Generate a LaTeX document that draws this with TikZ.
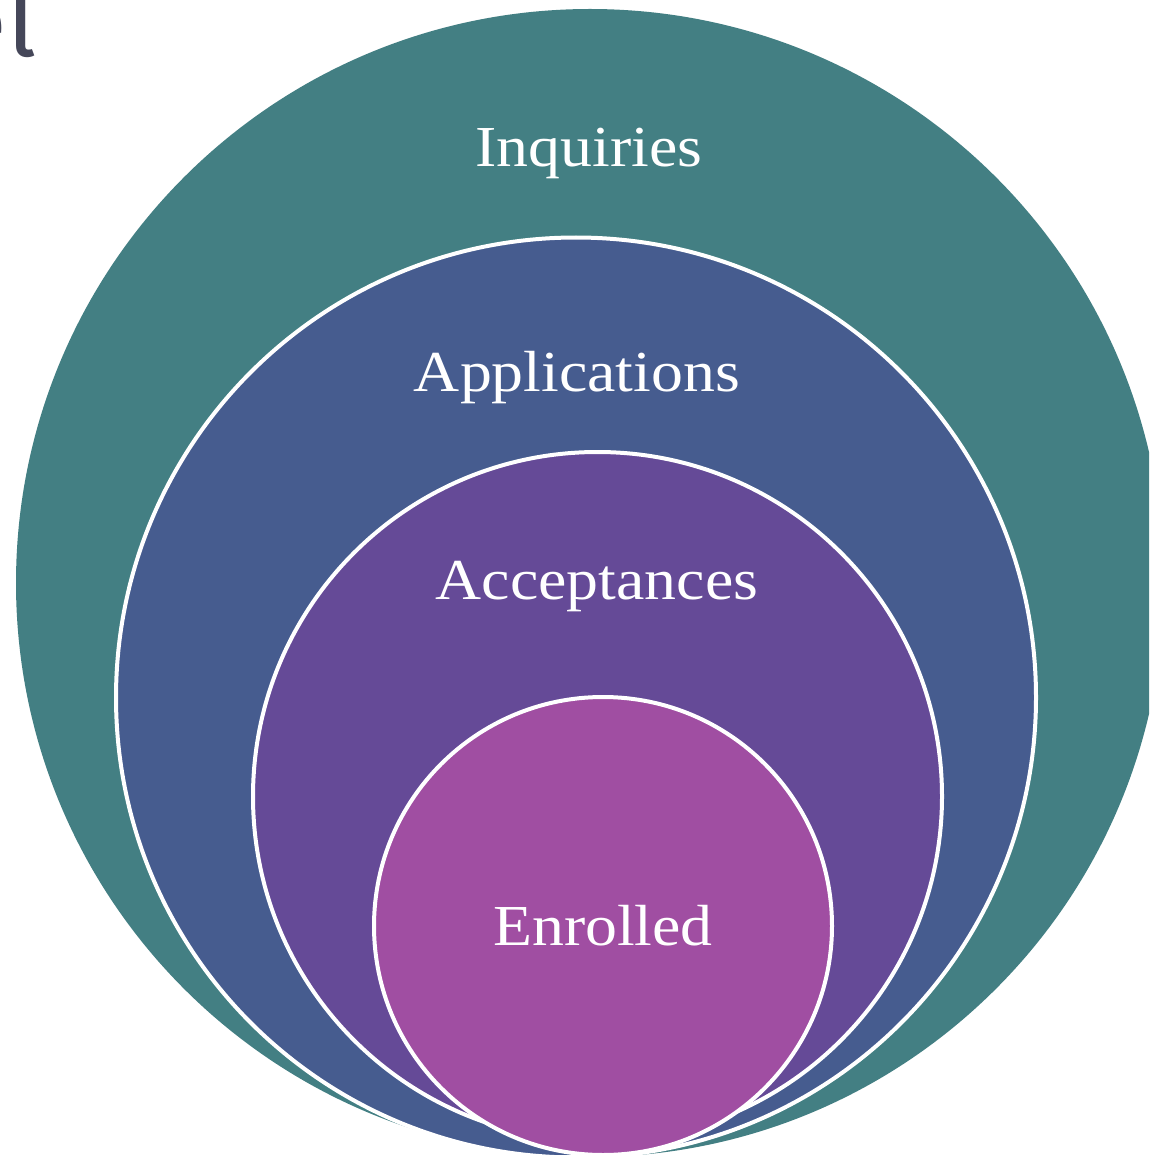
\documentclass[tikz,border=0pt]{standalone}
\usepackage{fontspec}
\setmainfont[FakeStretch=1.1]{Liberation Serif}
\newfontfamily\titlefont{Fira Sans}
\usepackage{tikz}

\definecolor{inqteal}{HTML}{437F83}
\definecolor{appblue}{HTML}{465C8F}
\definecolor{accpurple}{HTML}{654A97}
\definecolor{enrmagenta}{HTML}{A04EA2}
\definecolor{titlegray}{HTML}{454759}

\begin{document}
\begin{tikzpicture}[x=1pt,y=-1pt,
  ring/.style={circle,draw=white,line width=4pt,inner sep=0pt},
  lbl/.style={text=white,anchor=base,font=\fontsize{58}{60}\selectfont}]
\useasboundingbox (0,0) rectangle (1149,1155);
\clip (0,0) rectangle (1149,1155);
% cut-off title at the top left
\node[text=titlegray,anchor=base east,inner sep=0pt,font=\titlefont\fontsize{100}{100}\selectfont] (title) at (37,57) {el};
% nested circles
\node[circle,fill=inqteal,inner sep=0pt,minimum size=1148pt] (inq) at (590,583) {};
\node[ring,fill=appblue,minimum size=920pt] (app) at (576,697.5) {};
\node[ring,fill=accpurple,minimum size=689pt] (acc) at (597.5,796.5) {};
\node[ring,fill=enrmagenta,minimum size=458pt] (enr) at (603,926) {};
% labels
\node[lbl] (inqlbl) at (589,167) {Inquiries};
\node[lbl] (applbl) at (577,391) {Applications};
\node[lbl] (acclbl) at (597,599) {Acceptances};
\node[lbl] (enrlbl) at (603,945) {Enrolled};
\end{tikzpicture}
\end{document}
